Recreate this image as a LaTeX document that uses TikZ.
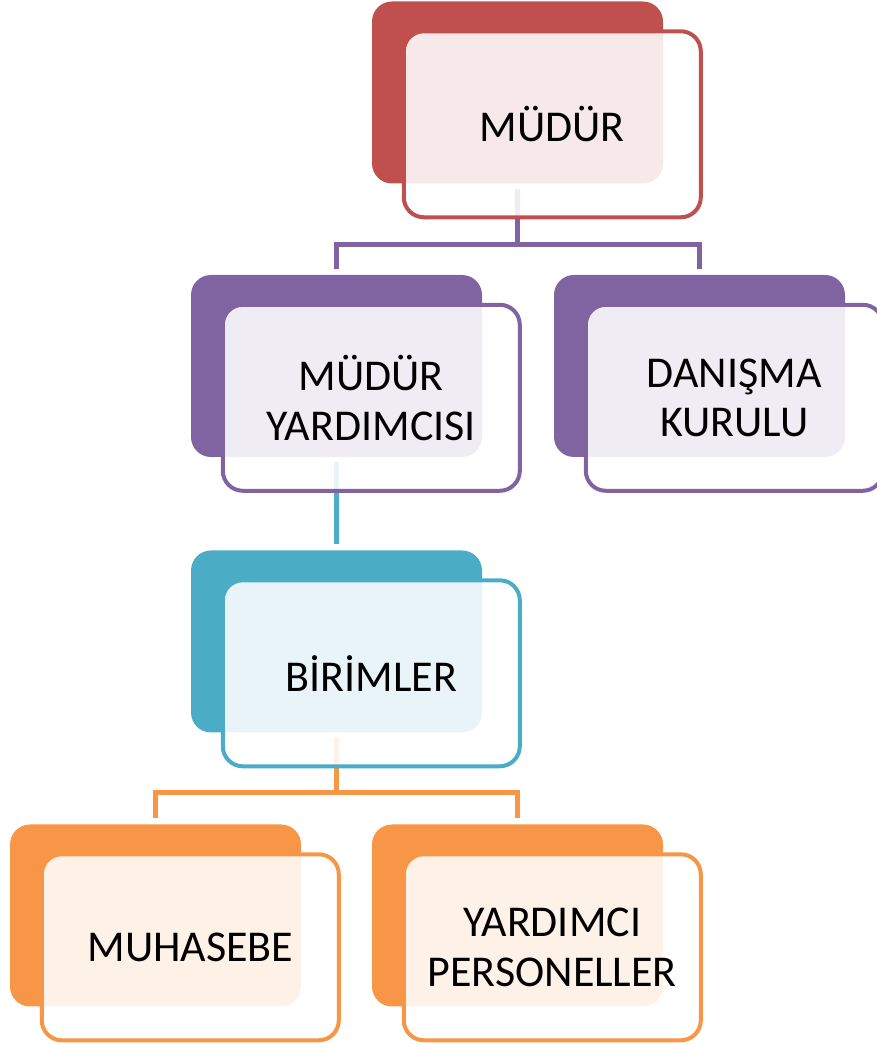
\documentclass[tikz,border=0pt]{standalone}
\usepackage{fontspec}
\setmainfont{Carlito}
\usepackage{tikz}
\usetikzlibrary{positioning,calc}
\pgfdeclarelayer{background}
\pgfsetlayers{background,main}

\definecolor{kirmizi}{HTML}{C0504D}
\definecolor{mor}{HTML}{8064A2}
\definecolor{turkuaz}{HTML}{4BACC6}
\definecolor{turuncu}{HTML}{F79646}

\begin{document}
\begin{tikzpicture}[x=1pt,y=1pt,
  style={font=\fontsize{44}{49.5}\selectfont},
  back/.style={rounded corners=20pt, fill=#1, minimum width=291pt, minimum height=182pt, inner sep=0pt},
  front/.style={rounded corners=20pt, draw=#1, line width=4pt, fill=white, fill opacity=0.88,
    text opacity=1, minimum width=297pt, minimum height=186pt, align=center, inner sep=0pt},
  link/.style={draw=#1, line width=4.5pt},
]
  \useasboundingbox (0,0) rectangle (877,1044);

  % Level 1
  \node[back=kirmizi] (mudur) at (517.5,951.5) {};
  \node[front=kirmizi, anchor=north west] (mudurf) at ($(mudur.north west)+(30,-28)$) {MÜDÜR};

  % Level 2
  \node[back=mor] (yard) at (336.5,678) {};
  \node[front=mor, anchor=north west] (yardf) at ($(yard.north west)+(30,-28)$) {MÜDÜR\\YARDIMCISI};
  \node[back=mor] (danis) at (699.5,678) {};
  \node[front=mor, anchor=north west] (danisf) at ($(danis.north west)+(30,-28)$) {DANIŞMA\\KURULU};

  % Level 3
  \node[back=turkuaz] (birim) at (336.5,402.5) {};
  \node[front=turkuaz, anchor=north west] (birimf) at ($(birim.north west)+(30,-28)$) {BİRİMLER};

  % Level 4
  \node[back=turuncu] (muh) at (155.5,128.5) {};
  \node[front=turuncu, anchor=north west] (muhf) at ($(muh.north west)+(30,-28)$) {MUHASEBE};
  \node[back=turuncu] (pers) at (517.5,128.5) {};
  \node[front=turuncu, anchor=north west] (persf) at ($(pers.north west)+(30,-28)$) {YARDIMCI\\PERSONELLER};

  % Connectors behind the boxes
  \begin{pgfonlayer}{background}
    \draw[link=mor] ([yshift=-5pt]mudur.south) -- ++(0,-56) -| ([yshift=6pt]yard.north);
    \draw[link=mor] ([yshift=-5pt]mudur.south) -- ++(0,-56) -| ([yshift=6pt]danis.north);
    \draw[link=turkuaz] ([yshift=-5pt]yard.south) -- ([yshift=6pt]birim.north);
    \draw[link=turuncu] ([yshift=-5pt]birim.south) -- ++(0,-55) -| ([yshift=6pt]muh.north);
    \draw[link=turuncu] ([yshift=-5pt]birim.south) -- ++(0,-55) -| ([yshift=6pt]pers.north);
  \end{pgfonlayer}
\end{tikzpicture}
\end{document}
